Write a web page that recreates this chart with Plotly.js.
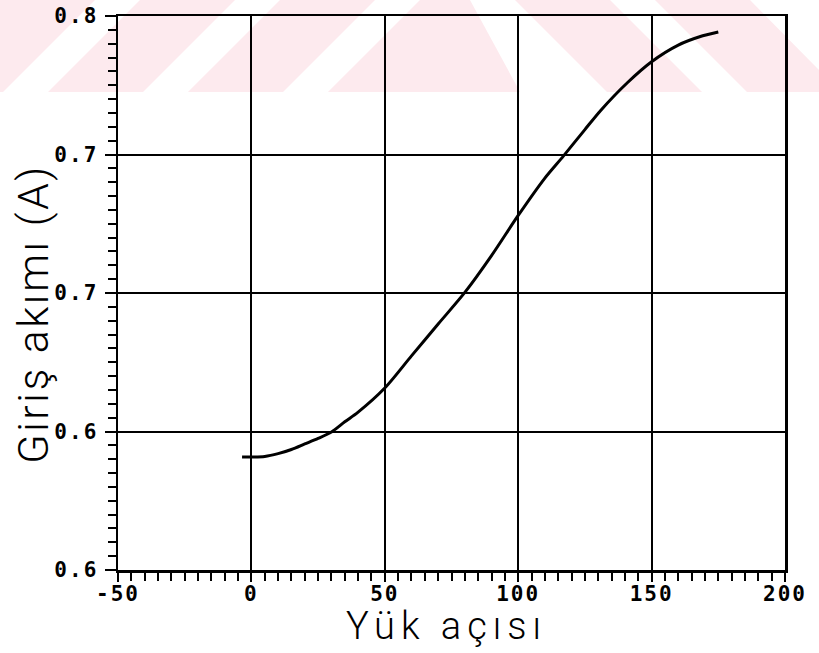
<!DOCTYPE html>
<html><head><meta charset="utf-8">
<script src="https://cdn.plot.ly/plotly-3.0.1.min.js"></script>
<style>
html,body{margin:0;padding:0;background:#fff}
.xtick text, .ytick text { letter-spacing: 2px; }
g.annotation[data-index="0"] text { letter-spacing: 6px; }
g.annotation[data-index="1"] text { letter-spacing: 2.5px; }
</style>
</head><body>
<div id="chart" style="width:819px;height:653px"></div>
<script>
// Data
const angle   = [-3.5, 0, 5, 10, 15, 20, 25, 30, 35, 40, 50, 60, 70, 80, 90, 100, 110, 117, 125, 131, 141, 150, 160, 168, 175];
const current = [0.6408, 0.6408, 0.6410, 0.6420, 0.6435, 0.6455, 0.6475, 0.6498, 0.6535, 0.6570, 0.6657, 0.6773, 0.6888, 0.7002, 0.7135, 0.7280, 0.7415, 0.7495, 0.7590, 0.7660, 0.7760, 0.7835, 0.7895, 0.7925, 0.7942];
const xTickVals = [-50, 0, 50, 100, 150, 200];
const xTickText = ['-50', '0', '50', '100', '150', '200'];
const yTickVals = [0.6, 0.65, 0.7, 0.75, 0.8];
const yTickText = ['0.6', '0.6', '0.7', '0.7', '0.8'];
const xTitle = 'Yük açısı';
const yTitle = 'Giriş akımı (A)';

// plot area in pixels
const W = 819, H = 653, L = 118, R = 785, T = 16, B = 570;
function px(x){ return (x - L) / (R - L); }
function py(y){ return (B - y) / (B - T); }
function poly(pts){
  return 'M' + pts.map(p => px(p[0]).toFixed(4) + ',' + py(p[1]).toFixed(4)).join(' L') + ' Z';
}
const pink = '#fdeaee';
const hb = 92; // watermark band height
const wm = [
  [[0,0],[95,0],[3,hb],[0,hb]],
  [[140,0],[235,0],[143,hb],[48,hb]],
  [[280,0],[375,0],[283,hb],[188,hb]],
  [[420,0],[470,0],[520,hb],[328,hb]],
  [[515,0],[610,0],[702,hb],[607,hb]],
  [[655,0],[750,0],[819,70],[819,hb],[747,hb]]
];
const shapes = wm.map(p => ({type:'path', xref:'paper', yref:'paper', layer:'below',
  path: poly(p), fillcolor: pink, line:{width:0}}));

const tickFont = {family:'DejaVu Sans Mono', size:21, color:'#000', weight:'bold'};
const trace = {x: angle, y: current, type:'scatter', mode:'lines',
  line:{color:'#000', width:3, shape:'spline', smoothing:0.8}, hoverinfo:'skip'};

const axisCommon = {showline:true, linecolor:'#000', linewidth:2.5, mirror:true,
  showgrid:true, gridcolor:'#000', gridwidth:2, zeroline:false,
  ticks:'outside', tickwidth:2, tickcolor:'#000', tickfont:tickFont};

const layout = {
  width:W, height:H,
  margin:{l:L, r:W-R, t:T, b:H-B, pad:0},
  paper_bgcolor:'#fff', plot_bgcolor:'rgba(0,0,0,0)',
  showlegend:false,
  xaxis: Object.assign({}, axisCommon, {range:[-50,200], tickmode:'array', tickvals:xTickVals, ticktext:xTickText,
    ticklen:9, ticklabelstandoff:-6,
    minor:{dtick:5, ticks:'outside', ticklen:8, tickwidth:2, tickcolor:'#000', showgrid:false}}),
  yaxis: Object.assign({}, axisCommon, {range:[0.6,0.8], tickmode:'array', tickvals:yTickVals, ticktext:yTickText,
    ticklen:11, ticklabelstandoff:2,
    minor:{dtick:0.005, ticks:'outside', ticklen:8, tickwidth:2, tickcolor:'#000', showgrid:false}}),
  shapes: shapes,
  annotations:[
    {text:xTitle, xref:'paper', yref:'paper', x:px(446), y:py(626), xanchor:'center', yanchor:'middle',
     showarrow:false, font:{family:'Roboto', size:38, color:'#000', weight:300}},
    {text:yTitle, xref:'paper', yref:'paper', x:px(33), y:py(314), xanchor:'center', yanchor:'middle',
     textangle:-90, showarrow:false, font:{family:'Roboto', size:43, color:'#000', weight:300}}
  ]
};
Plotly.newPlot('chart', [trace], layout, {displayModeBar:false, staticPlot:true});
</script>
</body></html>
